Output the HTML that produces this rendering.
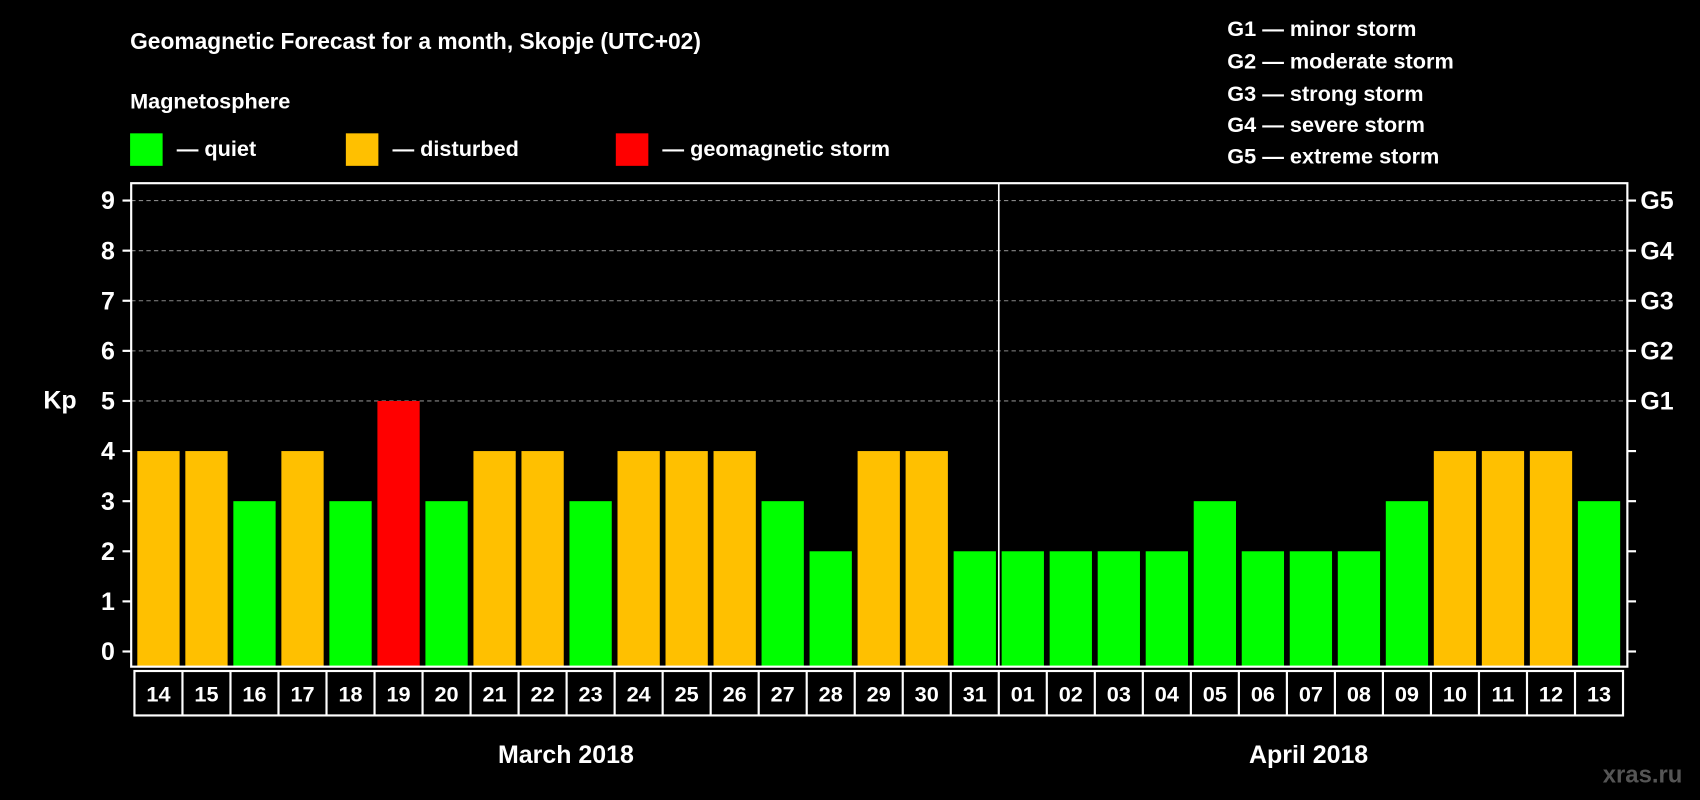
<!DOCTYPE html>
<html><head><meta charset="utf-8"><style>
html,body{margin:0;padding:0;background:#000;}
svg{display:block;font-family:"Liberation Sans",Arial,sans-serif;font-weight:bold;}
</style></head><body>
<svg id="chart" width="1700" height="800" viewBox="0 0 1568 738" preserveAspectRatio="none">
<rect width="1568" height="738" fill="#000"/>
<text x="120" y="45" fill="#fff" font-size="21">Geomagnetic Forecast for a month, Skopje (UTC+02)</text>
<text x="120" y="100" fill="#fff" font-size="20">Magnetosphere</text>
<g><rect x="120" y="123" width="30" height="30" fill="#00ff00"/><text x="163" y="144" fill="#fff" font-size="20">— quiet</text></g>
<g><rect x="319" y="123" width="30" height="30" fill="#ffc000"/><text x="362" y="144" fill="#fff" font-size="20">— disturbed</text></g>
<g><rect x="568" y="123" width="30" height="30" fill="#ff0000"/><text x="611" y="144" fill="#fff" font-size="20">— geomagnetic storm</text></g>
<g fill="#fff" font-size="20">
<text x="1132" y="33">G1 — minor storm</text>
<text x="1132" y="63">G2 — moderate storm</text>
<text x="1132" y="93">G3 — strong storm</text>
<text x="1132" y="122">G4 — severe storm</text>
<text x="1132" y="151">G5 — extreme storm</text>
</g>
<text x="40" y="377" fill="#fff" font-size="23">Kp</text>
<g id="plot"></g>
<text x="522" y="704" fill="#fff" font-size="23" text-anchor="middle">March 2018</text>
<text x="1207" y="704" fill="#fff" font-size="23" text-anchor="middle">April 2018</text>
<text x="1515" y="722" fill="#555" font-size="22" text-anchor="middle">xras.ru</text>
</svg>
<script>
const days = ["14","15","16","17","18","19","20","21","22","23","24","25","26","27","28","29","30","31","01","02","03","04","05","06","07","08","09","10","11","12","13"];
const kpValues = [4,4,3,4,3,5,3,4,4,3,4,4,4,3,2,4,4,2,2,2,2,2,3,2,2,2,3,4,4,4,3];
const yTicks = [0,1,2,3,4,5,6,7,8,9];
const gLabels = ["","","","","","G1","G2","G3","G4","G5"];
const NS="http://www.w3.org/2000/svg";
const g=document.getElementById('plot');
const L=121,R=1501,T=169,B=615,cellL=124,cellR=1497;
const pitch=(cellR-cellL)/days.length;
function y(v){return 601-v*(601-185)/9;}
function xc(i){return cellL+pitch*(i+0.5);}
function mk(t,a){const e=document.createElementNS(NS,t);for(const k in a)e.setAttribute(k,a[k]);g.appendChild(e);return e;}
yTicks.forEach((v,i)=>{
  if(v>=5){const gl=mk('line',{x1:L,x2:R,y1:y(v),y2:y(v),stroke:'#888','stroke-dasharray':'4,3','stroke-width':1});
  
  }
  const t1=mk('line',{x1:L-8,x2:L,y1:y(v),y2:y(v),stroke:'#fff','stroke-width':2});
  
  
  const t2=mk('line',{x1:R,x2:R+8,y1:y(v),y2:y(v),stroke:'#fff','stroke-width':2});
  
  
  const lb=mk('text',{x:106,y:y(v)+8,fill:'#fff','font-size':23,'text-anchor':'end'});lb.textContent=v;
  
  
  if(gLabels[i]){const gt=mk('text',{x:1513,y:y(v)+8,fill:'#fff','font-size':23});gt.textContent=gLabels[i];
  
  }
});
kpValues.forEach((v,i)=>{
  const c=v>=5?'#ff0000':(v>=4?'#ffc000':'#00ff00');
  const b=mk('rect',{x:xc(i)-19.5,y:y(v),width:39,height:B-y(v),fill:c});
  
  
});
const fr=mk('rect',{x:L,y:T,width:R-L,height:B-T,fill:'none',stroke:'#fff','stroke-width':2});


const dv=mk('line',{x1:cellL+pitch*18,x2:cellL+pitch*18,y1:T,y2:B,stroke:'#fff','stroke-width':1.5});


const db=mk('rect',{x:cellL,y:619,width:cellR-cellL,height:41,fill:'none',stroke:'#fff','stroke-width':2});


days.forEach((d,i)=>{
  if(i>0){const s=mk('line',{x1:cellL+pitch*i,x2:cellL+pitch*i,y1:619,y2:660,stroke:'#fff','stroke-width':2});
  
  }
  const t=mk('text',{x:xc(i),y:647,fill:'#fff','font-size':20,'text-anchor':'middle'});t.textContent=d;
  
  
});
</script>
</body></html>
